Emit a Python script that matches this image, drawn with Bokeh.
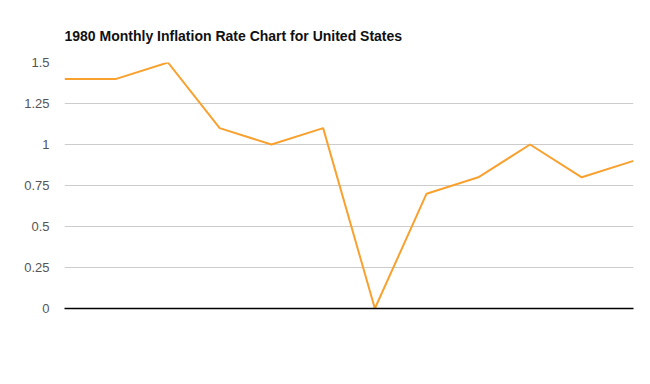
from bokeh.plotting import figure
from bokeh.models import FixedTicker, Range1d, ColumnDataSource
from bokeh.embed import file_html
from bokeh.resources import INLINE

months = ["Jan", "Feb", "Mar", "Apr", "May", "Jun", "Jul", "Aug", "Sep", "Oct", "Nov", "Dec"]
inflation = [1.4, 1.4, 1.5, 1.1, 1.0, 1.1, 0.0, 0.7, 0.8, 1.0, 0.8, 0.9]
y_ticks = [0, 0.25, 0.5, 0.75, 1, 1.25, 1.5]
y_tick_labels = ["0", "0.25", "0.5", "0.75", "1", "1.25", "1.5"]
title_text = "1980 Monthly Inflation Rate Chart for United States"

idx = list(range(len(months)))
src = ColumnDataSource(dict(x=idx, y=inflation))

p = figure(width=650, height=384, output_backend="svg", toolbar_location=None,
           x_range=Range1d(0, len(months) - 1), y_range=Range1d(0, 1.5),
           min_border_left=64, min_border_right=17, min_border_top=62, min_border_bottom=76,
           title=title_text)
p.outline_line_color = None
p.background_fill_color = "white"
p.border_fill_color = "white"

p.title.align = "left"
p.title.text_font = "Liberation Sans"
p.title.text_font_style = "bold"
p.title.text_font_size = "14px"
p.title.text_color = "#111111"
p.title.standoff = 38

# x axis: only the black baseline
p.xaxis.ticker = FixedTicker(ticks=[])
p.xaxis.axis_line_color = "#000000"
p.xaxis.axis_line_width = 1.5
p.xaxis.major_tick_line_color = None
p.xaxis.minor_tick_line_color = None
p.xgrid.grid_line_color = None

p.yaxis.ticker = FixedTicker(ticks=y_ticks)
p.yaxis.major_label_overrides = {t: l for t, l in zip(y_ticks, y_tick_labels)}
p.yaxis.axis_line_color = None
p.yaxis.major_tick_line_color = None
p.yaxis.minor_tick_line_color = None
p.yaxis.major_tick_out = 0
p.yaxis.major_tick_in = 0
p.yaxis.major_label_standoff = 15
p.yaxis.major_label_text_font = "Liberation Sans"
p.yaxis.major_label_text_font_size = "13px"
p.yaxis.major_label_text_color = "#555555"
p.ygrid.ticker = FixedTicker(ticks=y_ticks[1:])
p.ygrid.grid_line_color = "#cccccc"
p.ygrid.grid_line_width = 1

p.line("x", "y", source=src, line_color="#F9A12F", line_width=2)

open("out.html", "w").write(file_html(p, INLINE))
